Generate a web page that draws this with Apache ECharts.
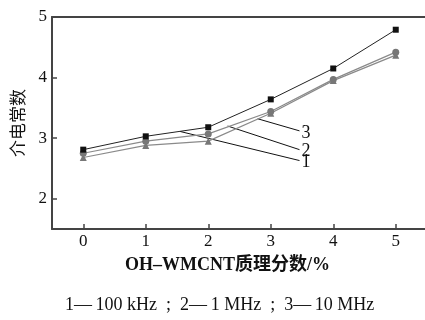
<!DOCTYPE html>
<html><head><meta charset="utf-8">
<script src="https://cdn.jsdelivr.net/npm/echarts@6/dist/echarts.min.js"></script>
<style>html,body{margin:0;padding:0;background:#fff}#c{width:425px;height:320px}</style>
</head><body><div id="c"></div>
<script>
const xValues = [0, 1, 2, 3, 4, 5];
const s100kHz = [2.81, 3.03, 3.18, 3.64, 4.15, 4.79];
const s1MHz = [2.75, 2.95, 3.07, 3.44, 3.97, 4.42];
const s10MHz = [2.68, 2.88, 2.95, 3.41, 3.95, 4.37];
const leaderLabels = ['1', '2', '3'];
const leaderStart = [[1.55, 3.11], [2.31, 3.20], [2.79, 3.32]];
const leaderEnd = [[3.46, 2.63], [3.46, 2.81], [3.46, 3.12]];
const yTicks = [2, 3, 4, 5];
const xTicks = [0, 1, 2, 3, 4, 5];

const serif = '"Liberation Serif","DejaVu Serif","Noto Sans CJK SC",serif';
const chart = echarts.init(document.getElementById('c'), null, {renderer: 'canvas'});
const pair = (arr) => xValues.map((x, i) => [x, arr[i]]);
const series = [
  {type: 'line', data: pair(s100kHz), symbol: 'rect', symbolSize: 6,
   lineStyle: {color: '#222', width: 1}, itemStyle: {color: '#111'}, z: 5},
  {type: 'line', data: pair(s1MHz), symbol: 'circle', symbolSize: 7,
   lineStyle: {color: '#8a8a8a', width: 1.2}, itemStyle: {color: '#777'}, z: 4},
  {type: 'line', data: pair(s10MHz), symbol: 'triangle', symbolSize: 7,
   lineStyle: {color: '#8a8a8a', width: 1.2}, itemStyle: {color: '#777'}, z: 3}
];
leaderLabels.forEach((lab, i) => {
  series.push({
    type: 'line', data: [leaderStart[i], leaderEnd[i]], symbol: 'none',
    lineStyle: {color: '#111', width: 1}, silent: true, z: 2,
    endLabel: {show: true, formatter: lab, fontFamily: serif, fontSize: 18,
      color: '#111', distance: 2, offset: [0, 2]}
  });
});
chart.setOption({
  animation: false,
  grid: {left: 52, right: -2, top: 17, bottom: 91, containLabel: false, outerBoundsMode: 'none'},
  xAxis: [{
    type: 'value', min: -0.5, max: 5.5,
    name: 'OH–WMCNT质理分数/%', nameLocation: 'middle', nameGap: 27,
    nameTextStyle: {fontFamily: serif, fontSize: 18, fontWeight: 'bold', color: '#111',
      padding: [0, 24, 0, 0]},
    axisLine: {show: true, onZero: false, lineStyle: {color: '#444', width: 2}},
    axisTick: {show: true, inside: true, length: 5, lineStyle: {color: '#444', width: 1.5},
      customValues: xTicks},
    axisLabel: {fontFamily: serif, fontSize: 17, color: '#111', margin: 4,
      customValues: xTicks},
    splitLine: {show: false}
  }, {
    type: 'value', position: 'top', min: -0.5, max: 5.5,
    axisLine: {show: true, onZero: false, lineStyle: {color: '#444', width: 2}},
    axisTick: {show: false}, axisLabel: {show: false}, splitLine: {show: false}
  }],
  yAxis: {
    type: 'value', min: 1.5, max: 5,
    name: '介电常数', nameLocation: 'middle', nameGap: 23, nameRotate: 90,
    nameTextStyle: {fontFamily: serif, fontSize: 17, color: '#111'},
    axisLine: {show: true, onZero: false, lineStyle: {color: '#444', width: 2}},
    axisTick: {show: true, inside: true, length: 5, lineStyle: {color: '#444', width: 1.5},
      customValues: yTicks},
    axisLabel: {fontFamily: serif, fontSize: 17, color: '#111', margin: 5,
      customValues: yTicks},
    splitLine: {show: false}
  },
  graphic: [{
    type: 'text', left: 65, top: 296,
    style: {text: '1—\u2009100 kHz\u2002;\u20022—\u20091 MHz\u2002;\u20023—\u200910 MHz', font: '18px ' + serif, fill: '#111'}
  }],
  series: series
});
</script></body></html>
